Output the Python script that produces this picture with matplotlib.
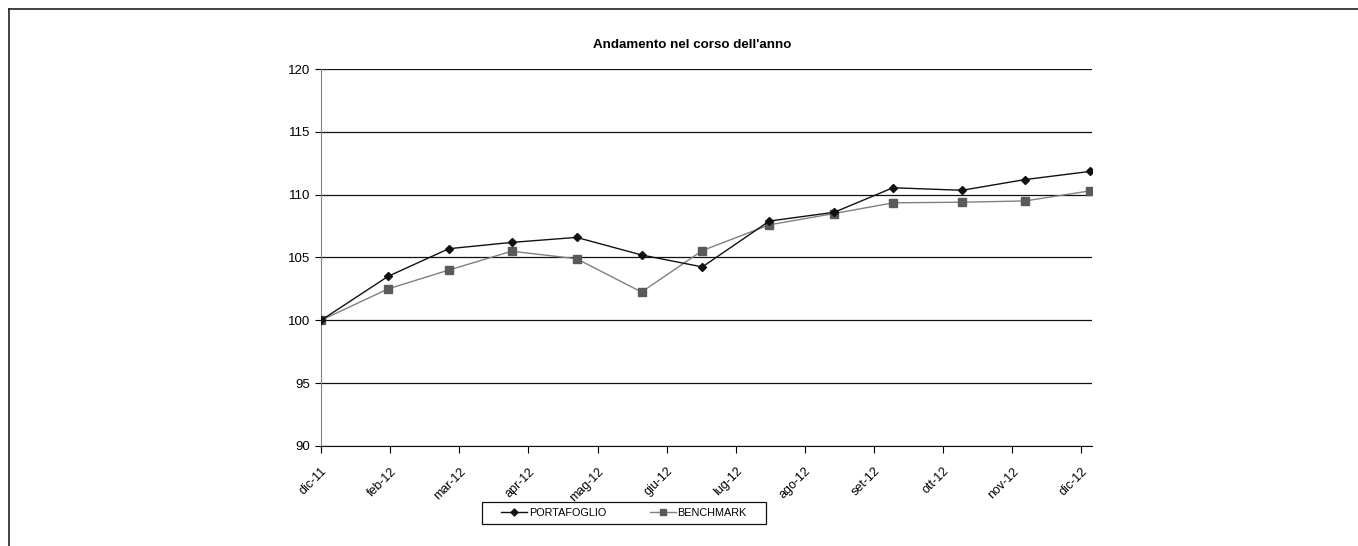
import datetime
import matplotlib
matplotlib.use("Agg")
import matplotlib.pyplot as plt
from matplotlib.lines import Line2D
from matplotlib.patches import Rectangle

plt.rcParams['font.family'] = ['Liberation Sans', 'DejaVu Sans']

## dati
date = ["2011-12-30", "2012-01-31", "2012-02-29", "2012-03-30", "2012-04-30",
        "2012-05-31", "2012-06-29", "2012-07-31", "2012-08-31", "2012-09-28",
        "2012-10-31", "2012-11-30", "2012-12-31"]
portafoglio = [100.0, 103.5, 105.7, 106.2, 106.6, 105.2, 104.25, 107.9, 108.6,
               110.55, 110.35, 111.2, 111.85]
benchmark = [100.0, 102.5, 104.0, 105.5, 104.9, 102.25, 105.55, 107.6, 108.5,
             109.35, 109.4, 109.5, 110.3]
etichette = ["dic-11", "feb-12", "mar-12", "apr-12", "mag-12", "giu-12",
             "lug-12", "ago-12", "set-12", "ott-12", "nov-12", "dic-12"]
passo = 33  # unità principale asse date (giorni)

x = [datetime.datetime.strptime(d, "%Y-%m-%d") for d in date]
tick_pos = [x[0] + datetime.timedelta(days=passo * i) for i in range(len(etichette))]

fig = plt.figure(figsize=(13.58, 5.46), dpi=100)
ax = fig.add_axes([0.2364, 0.1832, 0.5677, 0.6904])

ax.plot(x, portafoglio, color='#111111', lw=1.0, marker='D', ms=4.2,
        mfc='#111111', mec='#111111', label='PORTAFOGLIO', zorder=4)
ax.plot(x, benchmark, color='#808080', lw=1.0, marker='s', ms=5.5,
        mfc='#5a5a5a', mec='#5a5a5a', label='BENCHMARK', zorder=3)

ax.set_ylim(90, 120)
ax.set_yticks(range(90, 121, 5))
ax.set_xlim(x[0], x[-1] + datetime.timedelta(days=1))
ax.set_xticks(tick_pos)
ax.set_xticklabels(etichette, rotation=45, ha='right', rotation_mode='anchor',
                   fontsize=9)
ax.tick_params(axis='y', labelsize=9.5, length=4, width=0.8, direction='out', pad=4)
ax.tick_params(axis='x', length=5, width=0.8, direction='out', pad=9)

ax.grid(axis='y', color='#111111', lw=0.9)
ax.set_axisbelow(True)
for s in ['top', 'right']:
    ax.spines[s].set_visible(False)
ax.spines['left'].set_color('#808080')
ax.spines['bottom'].set_color('#111111')

# titolo (centrato sull'area del grafico, non sull'area del tracciato)
fig.text(0.5096, 0.917, "Andamento nel corso dell'anno", fontsize=9.6,
         fontweight='bold', ha='center', va='center')

## legenda
leg = fig.legend(loc='center', bbox_to_anchor=(0.4595, 0.0604), ncol=2,
                 fontsize=7.8, frameon=False, handlelength=2.4,
                 columnspacing=4.0, borderpad=0.3, handletextpad=0.15,
                 markerscale=0.85, borderaxespad=0)
fig.add_artist(Rectangle((0.3549, 0.0403), 0.2091, 0.0403, fill=False,
                         edgecolor='#111111', lw=0.9, transform=fig.transFigure))

# cornice esterna
fig.add_artist(Line2D([0.0066, 1.0], [0.9835, 0.9835], color='#222222', lw=1.2,
                      transform=fig.transFigure))
fig.add_artist(Line2D([0.0066, 0.0066], [0.0, 0.9835], color='#222222', lw=1.2,
                      transform=fig.transFigure))

fig.savefig('out.png', dpi=100, facecolor='white')
